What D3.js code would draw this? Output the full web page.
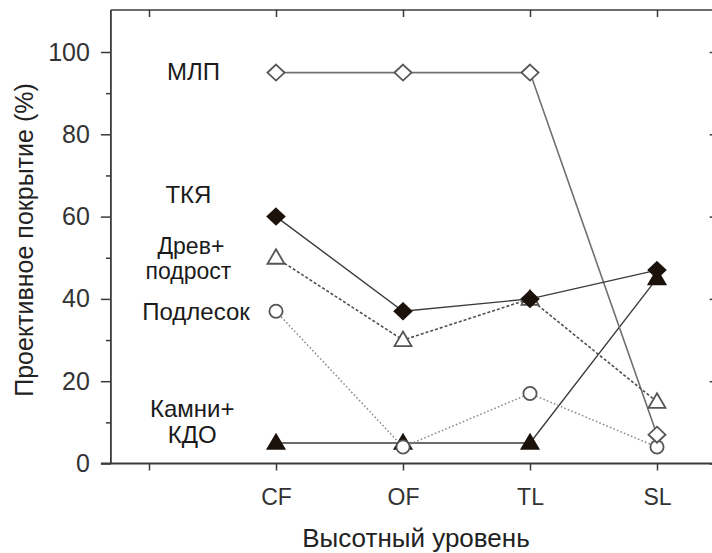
<!DOCTYPE html>
<html>
<head>
<meta charset="utf-8">
<script src="https://cdn.jsdelivr.net/npm/d3@7"></script>
<style>
  html, body { margin: 0; padding: 0; background: #fff; }
  svg { display: block; }
  text { font-family: "Liberation Sans", Arial, sans-serif; }
</style>
</head>
<body>
<svg id="chart" width="712" height="553"></svg>
<script>
// Altitude levels along the x axis (the first slot is an empty spacer tick)
const levels = ["", "CF", "OF", "TL", "SL"];
const levelIndex = [1, 2, 3, 4];

// Projective cover (%) per vegetation / ground layer at CF, OF, TL, SL
const mlp      = [95, 95, 95, 7];   // МЛП
const tkya     = [60, 37, 40, 47];  // ТКЯ
const drev     = [50, 30, 40, 15];  // Древ+подрост
const podlesok = [37, 4, 17, 4];    // Подлесок
const kamni    = [5, 5, 5, 45];     // Камни+КДО

const yMajor = [0, 20, 40, 60, 80, 100];
const yMinor = [10, 30, 50, 70, 90];

const svg = d3.select("#chart");

const x = d3.scaleLinear().domain([0, 4]).range([149, 657]);
const y = d3.scaleLinear().domain([0, 100]).range([463.5, 52]);

const xLeft = x(-0.3);
const xRight = x(4.47);
const yTop = y(110.2);
const axisColor = "#3a3a3a";

// Frame: top edge and right edge (the right edge sits just off the canvas)
svg.append("line")
  .attr("x1", xLeft).attr("x2", xRight)
  .attr("y1", yTop).attr("y2", yTop)
  .attr("stroke", axisColor).attr("stroke-width", 1.6);

// Top axis ticks pointing inward
const topAxis = svg.append("g")
  .attr("transform", `translate(0,${yTop})`)
  .call(d3.axisTop(x).tickValues(d3.range(0, 5)).tickSize(-7).tickFormat(""));
topAxis.select(".domain").remove();
topAxis.selectAll("line").attr("stroke", axisColor).attr("stroke-width", 1.5);

// Right axis ticks pointing inward
const rightAxis = svg.append("g")
  .attr("transform", `translate(${xRight},0)`)
  .call(d3.axisRight(y).tickValues(yMajor).tickSize(-7).tickFormat(""));
rightAxis.select(".domain").remove();
rightAxis.selectAll("line").attr("stroke", axisColor).attr("stroke-width", 1.5);

// Left axis: minor ticks, then labelled major ticks
const leftMinor = svg.append("g")
  .attr("transform", `translate(${xLeft},0)`)
  .call(d3.axisLeft(y).tickValues(yMinor).tickSize(5).tickFormat(""));
leftMinor.select(".domain").remove();
leftMinor.selectAll("line").attr("stroke", axisColor).attr("stroke-width", 1.5);

const leftAxis = svg.append("g")
  .attr("transform", `translate(${xLeft},0)`)
  .call(d3.axisLeft(y).tickValues(yMajor).tickSize(10).tickSizeOuter(0).tickPadding(11));
leftAxis.select(".domain")
  .attr("d", `M0,${yTop}V${y(0)}`)
  .attr("stroke", axisColor).attr("stroke-width", 1.8);
leftAxis.selectAll("line").attr("stroke", axisColor).attr("stroke-width", 1.5);
leftAxis.selectAll("text")
  .attr("fill", "#333").style("font-size", "25px");

// Bottom axis with altitude level labels
const bottomAxis = svg.append("g")
  .attr("transform", `translate(0,${y(0)})`)
  .call(d3.axisBottom(x).tickValues(d3.range(0, 5)).tickSize(7).tickSizeOuter(0)
    .tickPadding(18).tickFormat(i => levels[i]));
bottomAxis.select(".domain")
  .attr("d", `M${xLeft - 10},0H${712 + 4}`)
  .attr("stroke", axisColor).attr("stroke-width", 1.8);
bottomAxis.selectAll("line").attr("stroke", axisColor).attr("stroke-width", 1.5);
bottomAxis.selectAll("text")
  .attr("fill", "#333").style("font-size", "23px");

// Axis titles
svg.append("text")
  .attr("x", 416).attr("y", 547)
  .attr("text-anchor", "middle")
  .attr("fill", "#222").style("font-size", "26px")
  .text("Высотный уровень");

svg.append("text")
  .attr("transform", "translate(33,240) rotate(-90)")
  .attr("text-anchor", "middle")
  .attr("fill", "#222").style("font-size", "25px")
  .text("Проективное покрытие (%)");

// Marker shapes
function diamondPath(cx, cy) {
  const w = 8.5, h = 8;
  return `M${cx},${cy - h}L${cx + w},${cy}L${cx},${cy + h}L${cx - w},${cy}Z`;
}
function trianglePath(cx, cy) {
  const w = 8.5, top = 8.5, bot = 6;
  return `M${cx},${cy - top}L${cx + w},${cy + bot}L${cx - w},${cy + bot}Z`;
}

const series = [
  { name: "Камни+КДО",    values: kamni,    shape: "triangle", filled: true,
    line: { stroke: "#3c3c3c", width: 1.4, dash: null } },
  { name: "Подлесок",     values: podlesok, shape: "circle",   filled: false,
    line: { stroke: "#8a8a8a", width: 1.5, dash: "1.6,2.2" } },
  { name: "МЛП",          values: mlp,      shape: "diamond",  filled: false,
    line: { stroke: "#707070", width: 1.6, dash: null } },
  { name: "Древ+подрост", values: drev,     shape: "triangle", filled: false,
    line: { stroke: "#505050", width: 1.6, dash: "3,2" } },
  { name: "ТКЯ",          values: tkya,     shape: "diamond",  filled: true,
    line: { stroke: "#3c3c3c", width: 1.4, dash: null } }
];

const lineGen = d3.line()
  .x((d, i) => x(levelIndex[i]))
  .y(d => y(d));

// Lines first, markers on top in series order
series.forEach(s => {
  svg.append("path")
    .datum(s.values)
    .attr("d", lineGen)
    .attr("fill", "none")
    .attr("stroke", s.line.stroke)
    .attr("stroke-width", s.line.width)
    .attr("stroke-dasharray", s.line.dash);
});

series.forEach(s => {
  const g = svg.append("g");
  const fill = s.filled ? "#1c120c" : "#fff";
  const stroke = s.filled ? "#1c120c" : "#555";
  s.values.forEach((v, i) => {
    const cx = x(levelIndex[i]), cy = y(v);
    if (s.shape === "circle") {
      g.append("circle").attr("cx", cx).attr("cy", cy).attr("r", 6.6)
        .attr("fill", fill).attr("stroke", stroke).attr("stroke-width", 1.8);
    } else {
      g.append("path")
        .attr("d", s.shape === "diamond" ? diamondPath(cx, cy) : trianglePath(cx, cy))
        .attr("fill", fill).attr("stroke", stroke).attr("stroke-width", 1.8)
        .attr("stroke-linejoin", "miter");
    }
  });
});

// Series name labels between the spacer tick and the CF column
const labelLines = [
  { text: "МЛП",      level: 0.35, at: 93.1, size: 24 },
  { text: "ТКЯ",      level: 0.31, at: 63.3, size: 24 },
  { text: "Древ+",    level: 0.33, at: 51.0, size: 23 },
  { text: "подрост",  level: 0.31, at: 44.9, size: 23 },
  { text: "Подлесок", level: 0.37, at: 34.9, size: 24 },
  { text: "Камни+",   level: 0.34, at: 11.3, size: 24 },
  { text: "КДО",      level: 0.34, at: 5.0,  size: 24 }
];

svg.append("g").selectAll("text")
  .data(labelLines)
  .join("text")
  .attr("x", d => x(d.level))
  .attr("y", d => y(d.at))
  .attr("text-anchor", "middle")
  .attr("fill", "#1a1a1a")
  .style("font-size", d => d.size + "px")
  .text(d => d.text);
</script>
</body>
</html>
